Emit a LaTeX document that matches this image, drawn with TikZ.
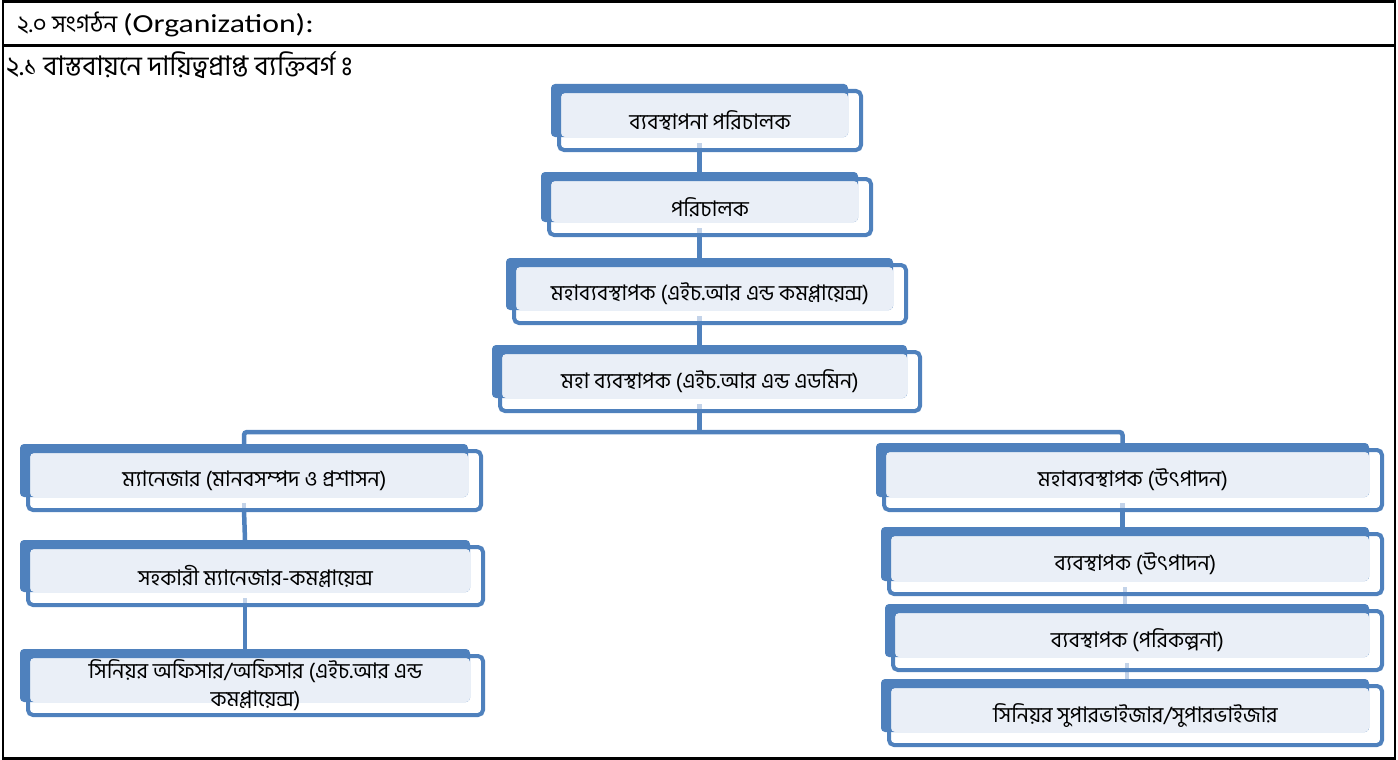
\documentclass[tikz,border=0pt]{standalone}
\usepackage{fontspec}
\setmainfont{Carlito}
\newfontfamily\hdrfont[FakeStretch=1.22]{Carlito}
\newfontfamily\bn[Script=Bengali]{Hind Siliguri}
\font\visfont="Hind Siliguri:script=latn" at 27pt
\usetikzlibrary{fit}
\definecolor{sablue}{HTML}{4F81BD}
\definecolor{salight}{HTML}{EAEFF7}
\definecolor{sapale}{HTML}{C3D3E9}
\pgfdeclarelayer{connlayer}
\pgfdeclarelayer{backlayer}
\pgfsetlayers{connlayer,backlayer,main}
\begin{document}
\begin{tikzpicture}[x=1pt,y=-1pt,
  obox/.style={draw=sablue, line width=4pt, rounded corners=5pt, inner sep=0pt, outer sep=0pt,
    font=\bn\fontsize{21.5}{28}\selectfont, align=center, text=black},
  backbox/.style={fill=sablue, rounded corners=4pt, inner sep=0pt, outer sep=0pt,
    path picture={\fill[salight] ([shift={(10,9)}]path picture bounding box.north west) rectangle (path picture bounding box.south east);}},
  conn/.style={draw=sablue, line width=4.5pt},
  connpale/.style={draw=sapale, line width=4.5pt},
  frame/.style={draw=black, line width=2.5pt}]
\useasboundingbox (0,0) rectangle (1398,760);
% frame
\draw[frame] (3,1.5) rectangle (1395,758.5);
\draw[frame] (3,45.5) -- (1395,45.5);
% headings
\node[anchor=west, inner sep=0pt, font=\fontsize{26}{30}\selectfont] (hdr) at (17,24) {{\bn\fontsize{24}{30}\selectfont ২.০ সংগঠন} {\hdrfont (Organization):}};
\node[anchor=west, inner sep=0pt, font=\bn\fontsize{27}{30}\selectfont] (sub) at (6,65) {২.১ বাস্তবায়নে দায়িত্বপ্রাপ্ত ব্যক্তিবর্গ {\visfont ঃ}};
% boxes (front outlines with text)
\node[obox, minimum width=302pt, minimum height=59pt] (o1) at (710,120.5) {ব্যবস্থাপনা পরিচালক};
\node[obox, minimum width=322pt, minimum height=56pt] (o2) at (710,207) {পরিচালক};
\node[obox, minimum width=392pt, minimum height=58pt] (o3) at (710,294) {মহাব্যবস্থাপক (এইচ.আর এন্ড কমপ্লায়েন্স)};
\node[obox, minimum width=420pt, minimum height=59pt] (o4) at (710,381.5) {মহা ব্যবস্থাপক (এইচ.আর এন্ড এডমিন)};
\node[obox, minimum width=453pt, minimum height=59pt] (oL1) at (254.5,480.5) {ম্যানেজার (মানবসম্পদ ও প্রশাসন)};
\node[obox, minimum width=455pt, minimum height=58pt] (oL2) at (255.5,576) {সহকারী ম্যানেজার-কমপ্লায়েন্স};
\node[obox, minimum width=455pt, minimum height=59pt] (oL3) at (255.5,685.5) {সিনিয়র অফিসার/অফিসার (এইচ.আর এন্ড\\কমপ্লায়েন্স)};
\node[obox, minimum width=498pt, minimum height=60pt] (oR1) at (1133,480) {মহাব্যবস্থাপক (উৎপাদন)};
\node[obox, minimum width=493pt, minimum height=60pt] (oR2) at (1135.5,564) {ব্যবস্থাপক (উৎপাদন)};
\node[obox, minimum width=489pt, minimum height=59pt] (oR3) at (1137.5,640.5) {ব্যবস্থাপক (পরিকল্পনা)};
\node[obox, minimum width=493pt, minimum height=59pt] (oR4) at (1135.5,715.5) {সিনিয়র সুপারভাইজার/সুপারভাইজার};
% back shapes
\begin{pgfonlayer}{backlayer}
\foreach \n in {1,2,3,4,L1,L2,L3,R1,R2,R3,R4}
  \node[backbox, fit={([shift={(-8,-7)}]o\n.north west) ([shift={(-13,-13)}]o\n.south east)}] (b\n) {};
\end{pgfonlayer}
% connectors
\begin{pgfonlayer}{connlayer}
\coordinate (bus) at (700,432);
\foreach \n in {1,2,3,4,L1,L2,R1,R2,R3}
  \draw[connpale] ([yshift=-6pt]b\n.south) -- (b\n.south |- o\n.south);
\draw[conn] (b1.south |- o1.south) -- (b2.north);
\draw[conn] (b2.south |- o2.south) -- (b3.north);
\draw[conn] (b3.south |- o3.south) -- (b4.north);
\draw[conn] (b4.south |- o4.south) -- (b4.south |- bus);
\draw[conn, rounded corners=3pt] (bL1.north) -- (bL1.north |- bus) -- (bR1.north |- bus) -- (bR1.north);
\draw[conn] (bL1.south |- oL1.south) -- (bL2.north);
\draw[conn] (bL2.south |- oL2.south) -- (bL3.north);
\draw[conn] (bR1.south |- oR1.south) -- (bR1.south |- bR2.north);
\draw[connpale] (bR2.south |- oR2.south) -- (bR2.south |- bR3.north);
\draw[connpale] (bR3.south |- oR3.south) -- (bR3.south |- bR4.north);
\end{pgfonlayer}
\end{tikzpicture}
\end{document}
